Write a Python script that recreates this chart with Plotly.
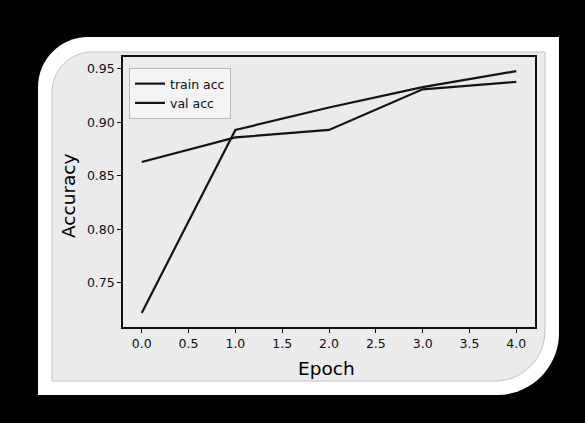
import plotly.graph_objects as go

epochs = [0, 1, 2, 3, 4]
train_acc = [0.722, 0.893, 0.914, 0.933, 0.948]
val_acc = [0.863, 0.886, 0.893, 0.931, 0.938]
x_ticks = [0, 0.5, 1, 1.5, 2, 2.5, 3, 3.5, 4]
x_tick_labels = ["0.0", "0.5", "1.0", "1.5", "2.0", "2.5", "3.0", "3.5", "4.0"]
y_ticks = [0.75, 0.80, 0.85, 0.90, 0.95]
y_tick_labels = ["0.75", "0.80", "0.85", "0.90", "0.95"]

W, H = 585, 423
L, R, T, B = 123, 535, 57, 327


def px(x):
    return (x - L) / (R - L)


def py(y):
    return (B - y) / (B - T)


def rounded(x0, y0, x1, y1, r1, r2):
    k = 0.5523
    pts = []
    pts.append(f"M {px(x0 + r1)},{py(y0)}")
    pts.append(f"L {px(x1)},{py(y0)}")
    pts.append(f"L {px(x1)},{py(y1 - r2)}")
    pts.append(f"C {px(x1)},{py(y1 - r2 + r2 * k)} {px(x1 - r2 + r2 * k)},{py(y1)} {px(x1 - r2)},{py(y1)}")
    pts.append(f"L {px(x0)},{py(y1)}")
    pts.append(f"L {px(x0)},{py(y0 + r1)}")
    pts.append(f"C {px(x0)},{py(y0 + r1 - r1 * k)} {px(x0 + r1 - r1 * k)},{py(y0)} {px(x0 + r1)},{py(y0)}")
    pts.append("Z")
    return " ".join(pts)


fig = go.Figure()
fig.add_trace(go.Scatter(x=epochs, y=train_acc, mode="lines", name="train acc",
                         line=dict(color="#141414", width=2.2)))
fig.add_trace(go.Scatter(x=epochs, y=val_acc, mode="lines", name="val acc",
                         line=dict(color="#141414", width=2.2)))

font = "DejaVu Sans, Verdana, sans-serif"

fig.update_layout(
    width=W, height=H,
    margin=dict(l=L, r=W - R, t=T, b=H - B),
    paper_bgcolor="black",
    plot_bgcolor="#eeeeee",
    font=dict(family=font, size=12.5, color="#111111"),
    showlegend=True,
    legend=dict(x=px(129), y=py(68), xanchor="left", yanchor="top",
                bgcolor="#f3f3f3", bordercolor="#b8b8b8", borderwidth=1,
                font=dict(size=12.5, color="#111111"), itemwidth=30,
                tracegroupgap=0),
    shapes=[
        dict(type="path", xref="paper", yref="paper", layer="below",
             path=rounded(38, 37, 559, 395, 50, 62),
             fillcolor="white", line=dict(width=0)),
        dict(type="path", xref="paper", yref="paper", layer="below",
             path=rounded(52, 52, 545, 381, 40, 50),
             fillcolor="#ebebeb", line=dict(color="#c4c4c4", width=1)),
    ],
    annotations=[
        dict(text="Accuracy", xref="paper", yref="paper", x=px(68), y=py(196),
             xanchor="center", yanchor="middle", textangle=-90, showarrow=False,
             font=dict(size=18.5, color="#000000", family=font)),
        dict(text="Epoch", xref="paper", yref="paper", x=px(326), y=py(368),
             xanchor="center", yanchor="middle", showarrow=False,
             font=dict(size=18.5, color="#000000", family=font)),
    ],
)

fig.update_xaxes(range=[-0.2, 4.2], tickvals=x_ticks, ticktext=x_tick_labels,
                 showgrid=False, zeroline=False, showline=True, mirror=True,
                 linecolor="#111111", linewidth=1.5, ticks="outside", ticklen=4,
                 tickcolor="#111111", tickwidth=1.2)
fig.update_yaxes(range=[0.7088, 0.9612], tickvals=y_ticks, ticktext=y_tick_labels,
                 showgrid=False, zeroline=False, showline=True, mirror=True,
                 linecolor="#111111", linewidth=1.5, ticks="outside", ticklen=4,
                 tickcolor="#111111", tickwidth=1.2)

fig.write_html(
    "out.html",
    config={"displayModeBar": False},
    post_script="document.body.style.margin='0';document.body.style.background='black';",
)
